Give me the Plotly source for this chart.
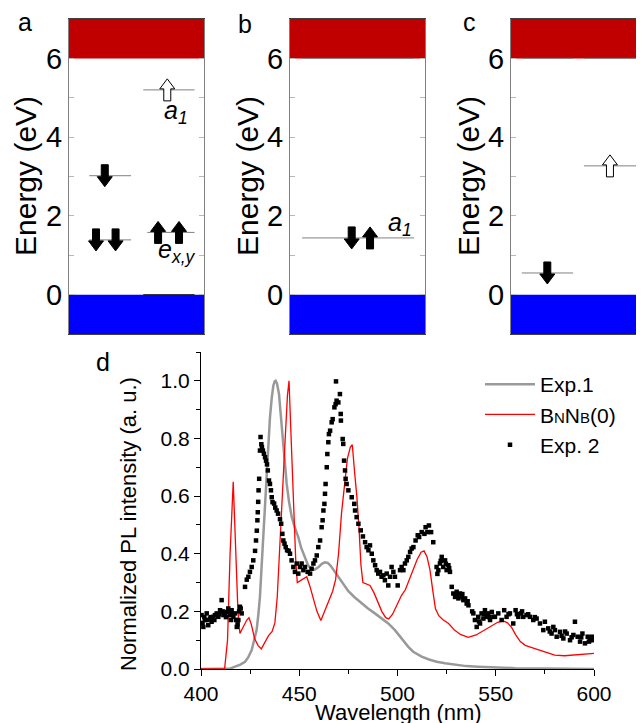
import plotly.graph_objects as go

W, H = 644, 723
OFF = 8  # page body margin of the browser, compensated in pixel placement
FONT = "Liberation Sans, Arial, Helvetica, sans-serif"

# ---------------- panel d data ----------------
exp1_wl = [400, 410, 415, 417.3, 420, 422.4, 424, 425.8, 427, 428.3, 429.2, 430, 430.8, 431.7,
           432.5, 433.4, 434.2, 435.1, 436, 436.8, 437.5, 438.0, 438.7, 439.7, 440.5, 441.4,
           442.5, 443.6, 444.8, 446.2, 447.8, 449.5, 451, 452.9, 454.5, 456.3, 458, 460, 461.5,
           463, 464.5, 466, 468, 470, 472.5, 475, 478, 481.8, 485, 488.5, 492, 495.3, 498.7,
           502, 505.5, 508, 512.3, 516, 520, 524.2, 530, 535, 541, 550, 560, 575, 600]
exp1_int = [0, 0, 0.002, 0.008, 0.015, 0.025, 0.04, 0.066, 0.095, 0.135, 0.19, 0.25, 0.35, 0.458,
            0.57, 0.689, 0.79, 0.873, 0.94, 0.983, 0.998, 1.0, 0.99, 0.954, 0.89, 0.815,
            0.72, 0.643, 0.58, 0.527, 0.49, 0.458, 0.42, 0.385, 0.36, 0.345, 0.345, 0.355, 0.365,
            0.37, 0.368, 0.358, 0.338, 0.318, 0.295, 0.27, 0.25, 0.227, 0.21, 0.193, 0.175, 0.158, 0.135,
            0.105, 0.077, 0.06, 0.043, 0.033, 0.025, 0.02, 0.014, 0.01, 0.008, 0.005, 0.003, 0.002, 0]

bnnb_wl = [400, 405, 410, 412, 413.5, 414.8, 416.4, 417.6, 418.8, 419.8, 421.4, 423.3, 424.4,
           425.6, 427.3, 429, 430.7, 432.5, 434.3, 436.2, 437.6, 438.8, 440, 441.5, 443, 444,
           444.8, 445.6, 446.4, 447.3, 448.2, 449.0, 450.2, 452, 453.8, 455.3, 457, 459, 461,
           463, 465, 467, 468.5, 470, 471.5, 473, 474.5, 476, 477, 478.2, 479.3, 480.4, 481.4,
           482.4, 484, 486, 488, 490, 492, 494, 495.5, 497.5, 500, 502, 504, 506, 508, 510,
           512, 513.5, 515, 516.5, 518, 519.3, 521, 523, 526, 529, 532, 536, 540, 544, 548,
           551, 553.8, 556, 558, 560, 562.5, 565, 568, 572, 576, 580, 585, 590, 595, 600]
bnnb_int = [0, 0, 0, 0.0, 0.1, 0.4, 0.65, 0.45, 0.2, 0.123, 0.145, 0.17, 0.178,
            0.155, 0.105, 0.082, 0.07, 0.09, 0.115, 0.13, 0.16, 0.25, 0.4, 0.6, 0.82, 0.95,
            1.0, 0.85, 0.68, 0.52, 0.38, 0.30, 0.305, 0.315, 0.32, 0.29, 0.25, 0.2, 0.168,
            0.2, 0.232, 0.27, 0.31, 0.4, 0.54, 0.64, 0.73, 0.77, 0.778, 0.68, 0.6, 0.49, 0.36,
            0.30, 0.295, 0.29, 0.265, 0.235, 0.2, 0.178, 0.174, 0.19, 0.225, 0.255, 0.275, 0.31, 0.35, 0.38,
            0.405, 0.41, 0.39, 0.345, 0.27, 0.21, 0.185, 0.172, 0.158, 0.135, 0.12, 0.11, 0.118, 0.135, 0.152,
            0.162, 0.167, 0.16, 0.145, 0.12, 0.095, 0.082, 0.075, 0.066, 0.057, 0.048, 0.046, 0.048, 0.051, 0.054]

exp2_wl = [400.3, 400.8, 401.2, 401.7, 402.0, 402.9, 403.3, 403.7, 404.6, 405.0, 405.4, 406.3, 406.8,
           407.1, 408.0, 408.8, 409.2, 409.7, 410.5, 411.0, 411.4, 412.2, 412.7, 413.1, 413.9, 414.3,
           414.8, 415.2, 415.6, 416.0, 416.5, 417.3, 417.8, 418.2, 418.6, 419.0, 419.4, 419.8, 420.2,
           420.7,
           422.4, 423.3, 424.1, 424.9, 425.8, 426.6, 427.5, 428.0, 428.4, 428.7, 428.9, 429.1, 429.3,
           429.6, 430.0, 430.3, 430.7, 431.0, 431.5, 432.0, 432.6, 433.1, 433.6, 434.0, 434.6, 435.1,
           435.6, 436.0, 436.4, 437.2, 437.8, 438.5, 439.2, 440.2, 440.8, 441.4, 441.9, 442.5, 443.1,
           443.8, 444.6, 445.3, 446.1, 447.0, 447.8,
           448.7, 449.5, 450.4, 451.2, 452.1, 452.9, 454.3, 455.5, 456.3, 457.2, 458.0, 458.9, 459.7,
           460.6, 461.4, 461.9, 462.3, 462.8, 463.1, 463.4, 464.0, 464.3, 464.8, 465.1, 465.7, 466.5,
           467.0, 467.9, 468.5, 468.7, 469.0, 469.9, 470.7, 471.1, 471.2, 472.1, 472.4, 472.8, 473.3,
           473.6, 474.1, 475.0, 476.7, 478.0, 478.4, 479.2, 480.1, 481.3, 482.4, 483.5, 484.3, 485.2,
           486.0, 486.9, 487.7, 488.6, 489.4, 490.2, 491.1, 491.9, 492.8, 493.6, 494.5, 495.3, 496.2,
           497.0, 497.9,
           498.7, 500.1, 501.3, 502.1, 503.0, 503.8, 504.7, 505.5, 506.4, 507.2, 508.1, 509.2, 510.3,
           511.0, 512.3, 513.7, 514.3, 515.2, 516.0, 517.1, 518.2, 519.9, 520.3, 520.8, 521.6, 522.0,
           522.5, 523.3, 524.2, 524.6, 525.0, 525.9, 526.3, 526.7, 527.6, 528.4, 529.3, 530.1, 530.5,
           531.0, 531.8, 532.7, 533.0, 533.5, 534.4, 535.2, 535.7, 536.1, 538.0, 538.6, 539.4, 540.3,
           541.1, 541.5, 542.0, 542.8, 543.7, 544.0, 544.5, 545.4, 546.2, 546.7, 547.1, 548.0, 548.8,
           549.6, 551.3, 553.0, 554.3, 555.5, 556.5, 557.2, 558.9, 560.1, 560.8, 561.5, 562.8, 563.4,
           564.0, 565.7, 566.5, 567.4, 569.1, 569.9, 570.8, 572.5, 574.2, 575.0, 576.7, 577.5, 578.4,
           579.3, 580.1, 581.0, 582.7, 583.5, 584.4, 585.3, 586.1, 587.8, 588.6, 589.5, 590.3, 591.7,
           592.9, 593.5, 594.1, 595.4, 596.8, 597.4, 598.0, 599.1, 599.6]
exp2_int = [0.187, 0.16, 0.146, 0.18, 0.170, 0.193, 0.17, 0.152, 0.175, 0.18, 0.164, 0.181, 0.17,
            0.187, 0.193, 0.181, 0.19, 0.204, 0.239, 0.2, 0.187, 0.193, 0.18, 0.198, 0.210, 0.2,
            0.187, 0.17, 0.204, 0.19, 0.181, 0.193, 0.17, 0.146, 0.155, 0.170, 0.2, 0.216, 0.21,
            0.193,
            0.285, 0.31, 0.32, 0.337, 0.354, 0.377, 0.41, 0.446, 0.48, 0.516, 0.544, 0.58, 0.62,
            0.66, 0.758, 0.805, 0.78, 0.77, 0.758, 0.747, 0.735, 0.723, 0.71, 0.689, 0.654, 0.642,
            0.62, 0.596, 0.579, 0.574, 0.56, 0.55, 0.539, 0.52, 0.504, 0.469, 0.446, 0.435, 0.423,
            0.412, 0.41, 0.40, 0.377, 0.354, 0.337,
            0.366, 0.331, 0.354, 0.366, 0.343, 0.354, 0.337, 0.331, 0.348, 0.366, 0.377, 0.394, 0.423,
            0.446, 0.492, 0.516, 0.55, 0.573, 0.608, 0.642, 0.70, 0.746, 0.787, 0.815, 0.827, 0.856,
            0.867, 0.908, 0.919, 0.998, 0.931, 0.925, 0.954, 0.885, 0.862, 0.798, 0.781, 0.723, 0.689,
            0.66, 0.642, 0.62, 0.596, 0.573, 0.55, 0.527, 0.504, 0.481, 0.46, 0.44, 0.423, 0.412,
            0.429, 0.40, 0.377, 0.36, 0.343, 0.331, 0.337, 0.32, 0.325, 0.308, 0.331, 0.29, 0.32,
            0.354, 0.337,
            0.32, 0.29, 0.343, 0.354, 0.343, 0.366, 0.377, 0.389, 0.406, 0.418, 0.423, 0.446, 0.464,
            0.458, 0.475, 0.469, 0.492, 0.475, 0.498, 0.475, 0.44, 0.354, 0.33, 0.343, 0.366, 0.375,
            0.389, 0.354, 0.377, 0.365, 0.343, 0.36, 0.35, 0.337, 0.285, 0.262, 0.25, 0.268, 0.255,
            0.245, 0.262, 0.25, 0.26, 0.239, 0.245, 0.227, 0.235, 0.221, 0.2, 0.193, 0.17, 0.146,
            0.181, 0.165, 0.158, 0.193, 0.175, 0.19, 0.204, 0.181, 0.193, 0.18, 0.17, 0.198, 0.181,
            0.181, 0.193, 0.17, 0.204, 0.181, 0.19, 0.193, 0.158, 0.204, 0.19, 0.181, 0.193, 0.2,
            0.181, 0.187, 0.19, 0.181, 0.17, 0.18, 0.175, 0.158, 0.135, 0.164, 0.141, 0.13, 0.123,
            0.146, 0.135, 0.112, 0.129, 0.115, 0.106, 0.13, 0.123, 0.10, 0.11, 0.118, 0.164, 0.112,
            0.095, 0.11, 0.123, 0.089, 0.112, 0.095, 0.10, 0.112, 0.1]

# ---------------- panels a-c data ----------------
cb_edge = 6.0      # conduction band minimum (eV)
vb_edge = 0.0      # valence band maximum (eV)
e_min, e_max = -1.0, 7.0

# defect levels: start, end (fraction of panel width), energy (eV)
lev_a_x0 = [0.15, 0.15, 0.55, 0.58]
lev_a_x1 = [0.46, 0.46, 0.93, 0.93]
lev_a_e = [3.02, 1.39, 5.20, 1.58]
lev_a_dark_x0 = [0.55]
lev_a_dark_x1 = [0.93]
lev_a_dark_e = [0.0]

lev_b_x0 = [0.09, 0.09]
lev_b_x1 = [0.92, 0.92]
lev_b_e = [6.0, 1.44]

lev_c_x0 = [0.08, 0.54, 0.08, 0.54]
lev_c_x1 = [0.46, 0.93, 0.46, 0.93]
lev_c_e = [6.0, 6.0, 0.55, 3.27]

# spin arrows: x, energy, direction (+1 up / -1 down), filled
arr_a_x = [0.265, 0.20, 0.345, 0.66, 0.815, 0.728]
arr_a_e = [3.02, 1.39, 1.39, 1.58, 1.58, 5.20]
arr_a_dir = [-1, -1, -1, 1, 1, 1]
arr_a_fill = [True, True, True, True, True, False]

arr_b_x = [0.457, 0.593]
arr_b_e = [1.44, 1.44]
arr_b_dir = [-1, 1]
arr_b_fill = [True, True]

arr_c_x = [0.269, 0.733]
arr_c_e = [0.55, 3.27]
arr_c_dir = [-1, 1]
arr_c_fill = [True, False]

# ---------------- layout geometry (window pixels) ----------------
def px_x(p):
    return (p - OFF) / W

def px_y(p):
    return 1 - (p - OFF) / H

top_dom_y = [px_y(334), px_y(19)]
dom_a = [px_x(69), px_x(204)]
dom_b = [px_x(290), px_x(425)]
dom_c = [px_x(511), px_x(646)]
PANEL_PX = 135.0
top_px_per_ev = (334 - 19) / (e_max - e_min)

# arrow size (pixels -> data units)
ARR_H = 22 / top_px_per_ev
ARR_HH = 10 / top_px_per_ev
ARR_S = 3.5 / PANEL_PX
ARR_HW = 7.5 / PANEL_PX

fig = go.Figure()

def level_trace(x0s, x1s, es, color, xa, ya):
    xs, ys = [], []
    for a, b, e in zip(x0s, x1s, es):
        xs += [a, b, None]
        ys += [e, e, None]
    return go.Scatter(x=xs, y=ys, mode="lines", line=dict(color=color, width=1),
                      xaxis=xa, yaxis=ya, showlegend=False, hoverinfo="skip")

fig.add_trace(level_trace(lev_a_x0, lev_a_x1, lev_a_e, "#808080", "x", "y"))
fig.add_trace(level_trace(lev_a_dark_x0, lev_a_dark_x1, lev_a_dark_e, "#202020", "x", "y"))
fig.add_trace(level_trace(lev_b_x0, lev_b_x1, lev_b_e, "#808080", "x2", "y2"))
fig.add_trace(level_trace(lev_c_x0, lev_c_x1, lev_c_e, "#808080", "x3", "y3"))

# panel d traces
SC = '<span style="font-size:15px">{}</span>'
fig.add_trace(go.Scatter(x=exp1_wl, y=exp1_int, mode="lines", name="Exp.1",
                         line=dict(color="#999999", width=2.5), xaxis="x4", yaxis="y4"))
fig.add_trace(go.Scatter(x=bnnb_wl, y=bnnb_int, mode="lines",
                         name="B" + SC.format("N") + "N" + SC.format("B") + "(0)",
                         line=dict(color="#FF0000", width=1.3), xaxis="x4", yaxis="y4"))
fig.add_trace(go.Scatter(x=exp2_wl, y=exp2_int, mode="markers", name="Exp. 2",
                         marker=dict(symbol="square", size=4.5, color="black"), xaxis="x4", yaxis="y4"))

shapes = []
for xr, yr in [("x", "y"), ("x2", "y2"), ("x3", "y3")]:
    shapes.append(dict(type="rect", xref=xr + " domain", yref=yr, x0=0, x1=1, y0=cb_edge, y1=e_max,
                       fillcolor="#C00000", line=dict(width=0), layer="below"))
    shapes.append(dict(type="rect", xref=xr + " domain", yref=yr, x0=0, x1=1, y0=e_min, y1=vb_edge,
                       fillcolor="#0000FF", line=dict(width=0), layer="below"))

def arrow_path(xc, yc, d):
    y_tail = yc - d * ARR_H / 2
    y_tip = yc + d * ARR_H / 2
    y_base = y_tip - d * ARR_HH
    pts = [(xc - ARR_S, y_tail), (xc + ARR_S, y_tail), (xc + ARR_S, y_base), (xc + ARR_HW, y_base),
           (xc, y_tip), (xc - ARR_HW, y_base), (xc - ARR_S, y_base)]
    return "M " + " L ".join(f"{x:.4f},{y:.4f}" for x, y in pts) + " Z"

for xr, yr, xs, es, ds, fs in [("x", "y", arr_a_x, arr_a_e, arr_a_dir, arr_a_fill),
                               ("x2", "y2", arr_b_x, arr_b_e, arr_b_dir, arr_b_fill),
                               ("x3", "y3", arr_c_x, arr_c_e, arr_c_dir, arr_c_fill)]:
    for xc, e, d, f in zip(xs, es, ds, fs):
        shapes.append(dict(type="path", xref=xr, yref=yr, path=arrow_path(xc, e, d),
                           fillcolor="black" if f else "white",
                           line=dict(color="black", width=1), layer="above"))

top_y = dict(range=[e_min, e_max], tickvals=[0, 2, 4, 6], ticktext=["0", "2", "4", "6"],
             ticks="inside", ticklen=5, tickcolor="#b8b8b8",
             minor=dict(tickvals=[1, 3, 5], ticks="inside", ticklen=5, tickcolor="#b8b8b8"),
             showline=True, linecolor="#808080", linewidth=1, mirror="ticks", automargin=False,
             showgrid=False, zeroline=False, tickfont=dict(size=29, color="black"), domain=top_dom_y)
top_x = dict(showticklabels=False, ticks="", showline=True, linecolor="#404040", linewidth=1,
             mirror=True, showgrid=False, zeroline=False, automargin=False, range=[0, 1])

annotations = []
def ann(text, x, y, size, xref="paper", yref="paper", angle=0, xanchor="center", yanchor="middle"):
    annotations.append(dict(text=text, x=x, y=y, xref=xref, yref=yref, showarrow=False,
                            textangle=angle, xanchor=xanchor, yanchor=yanchor,
                            font=dict(size=size, color="black", family=FONT)))

ann("a", px_x(25), px_y(22), 25)
ann("b", px_x(245), px_y(24), 25)
ann("c", px_x(469), px_y(22), 25)
ann("d", px_x(103), px_y(362), 25)
for cx in [25, 247, 468]:
    ann("Energy (eV)", px_x(cx), px_y(176), 30, angle=-90)
ann("<i>a</i><sub><i>1</i></sub>", 0.79, 4.65, 25, xref="x", yref="y")
ann("<i>e</i><sub><i>x,y</i></sub>", 0.80, 1.12, 25, xref="x", yref="y")
ann("<i>a</i><sub><i>1</i></sub>", 0.815, 1.80, 25, xref="x2", yref="y2")
ann("Wavelength (nm)", px_x(398), px_y(712), 22)
ann("Normalized PL intensity (a. u.)", px_x(128), px_y(524), 22, angle=-90)

fig.update_layout(
    width=W, height=H, margin=dict(l=0, r=0, t=0, b=0, autoexpand=False),
    paper_bgcolor="white", plot_bgcolor="white",
    font=dict(family=FONT, color="black"),
    xaxis=dict(top_x, domain=dom_a, anchor="y"),
    xaxis2=dict(top_x, domain=dom_b, anchor="y2"),
    xaxis3=dict(top_x, domain=dom_c, anchor="y3"),
    yaxis=dict(top_y, anchor="x"),
    yaxis2=dict(top_y, anchor="x2"),
    yaxis3=dict(top_y, anchor="x3"),
    xaxis4=dict(domain=[px_x(201), px_x(594)], range=[400, 600], anchor="y4", automargin=False,
                tickvals=[400, 450, 500, 550, 600], ticks="outside", ticklen=6, tickcolor="black",
                minor=dict(dtick=25, ticks="outside", ticklen=4, tickcolor="black"),
                showline=True, linecolor="black", linewidth=1, showgrid=False, zeroline=False,
                tickfont=dict(size=21, color="black")),
    yaxis4=dict(domain=[px_y(669), px_y(352)], range=[0, 1.1], anchor="x4", automargin=False,
                tickvals=[0, 0.2, 0.4, 0.6, 0.8, 1.0], tickformat=".1f",
                ticks="outside", ticklen=6, tickcolor="black",
                minor=dict(dtick=0.1, ticks="outside", ticklen=4, tickcolor="black"),
                showline=True, linecolor="black", linewidth=1, showgrid=False, zeroline=False,
                tickfont=dict(size=21, color="black")),
    shapes=shapes, annotations=annotations,
    showlegend=True,
    legend=dict(x=px_x(480), y=px_y(364), xanchor="left", yanchor="top",
                font=dict(size=21, color="black", family=FONT), bgcolor="rgba(0,0,0,0)",
                tracegroupgap=0, itemwidth=50),
)

fig.write_html("out.html")
